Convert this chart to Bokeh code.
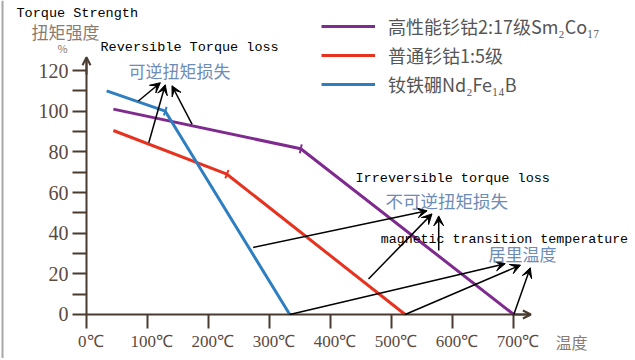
from bokeh.plotting import figure
from bokeh.models import (Range1d, FixedTicker, Label, Arrow, VeeHead, OpenHead,
                          ColumnDataSource, Legend, LegendItem, LinearAxis, Span)
from bokeh.embed import file_html
from bokeh.resources import INLINE

# ---------------- data ----------------
# temperature (°C) / torque strength (%)
smco217_temp = [44, 351, 700]
smco217_pct = [101, 81.5, 0]
smco15_temp = [44, 230, 522]
smco15_pct = [90.5, 69, 0]
ndfeb_temp = [33, 129, 333]
ndfeb_pct = [110, 100, 0]

series_names = ["高性能钐钴2:17级Sm₂Co₁₇", "普通钐钴1:5级", "钕铁硼Nd₂Fe₁₄B"]
series_colors = ["#7f2a8e", "#e6321f", "#2d7fc1"]

x_ticks = [0, 100, 200, 300, 400, 500, 600, 700]
x_tick_labels = ["0℃", "100℃", "200℃", "300℃", "400℃", "500℃", "600℃", "700℃"]
y_ticks = [0, 20, 40, 60, 80, 100, 120]
y_minor_ticks = [10, 30, 50, 70, 90, 110]

# annotation arrows (data units)
rev_x0 = [85, 102, 173]
rev_y0 = [105, 84.5, 93.5]
rev_x1 = [121, 129, 140]
rev_y1 = [114, 113, 112.5]

irr_x0 = [273, 462, 577]
irr_y0 = [33, 17.5, 31.5]
irr_x1 = [558, 566, 577]
irr_y1 = [51, 49.5, 48.5]

curie_x0 = [333, 522, 700]
curie_y0 = [0, 0, 0]
curie_x1 = [686, 711, 727]
curie_y1 = [25, 24.3, 23]

kink_angles = [1.36, 1.21, 1.26]

axis_color = "#4a3b31"
label_color = "#5b4a3e"

# ---------------- figure ----------------
p = figure(width=633, height=358, output_backend="svg", toolbar_location=None,
           x_range=Range1d(-140.9, 896.1), y_range=Range1d(-21.64, 154.43),
           x_axis_location=None, y_axis_location=None,
           min_border=0)
p.outline_line_color = None
p.grid.visible = False
p.background_fill_color = "white"

# thin grey frame edge on the left, as in the source picture
p.add_layout(Span(location=-137.6, dimension="height", line_color="#a8a8a8", line_width=2))

# axes (fixed inside the frame)
xa = LinearAxis(fixed_location=0)
xa.ticker = FixedTicker(ticks=x_ticks)
xa.major_label_overrides = {t: "\u2002" + l for t, l in zip(x_ticks, x_tick_labels)}
xa.bounds = (0, 727)
xa.axis_line_color = axis_color
xa.axis_line_width = 2
xa.major_tick_line_color = axis_color
xa.major_tick_line_width = 2
xa.major_tick_out = 14
xa.major_tick_in = 0
xa.minor_tick_line_color = None
xa.major_label_standoff = 4
xa.major_label_text_font = "Liberation Serif"
xa.major_label_text_font_size = "17px"
xa.major_label_text_color = label_color
p.add_layout(xa, "below")

ya = LinearAxis(fixed_location=0)
ya.ticker = FixedTicker(ticks=y_ticks, minor_ticks=y_minor_ticks)
ya.bounds = (0, 126)
ya.axis_line_color = axis_color
ya.axis_line_width = 2
ya.major_tick_line_color = axis_color
ya.major_tick_line_width = 2
ya.minor_tick_line_color = axis_color
ya.minor_tick_line_width = 2
ya.major_tick_out = 14
ya.major_tick_in = 0
ya.minor_tick_out = 14
ya.minor_tick_in = 0
ya.major_label_standoff = 4
ya.major_label_text_font = "Liberation Serif"
ya.major_label_text_font_size = "20px"
ya.major_label_text_color = label_color
p.add_layout(ya, "left")

# axis arrow heads
p.add_layout(Arrow(x_start=0, y_start=118, x_end=0, y_end=126.5,
                   end=OpenHead(size=8, line_color=axis_color, line_width=2),
                   line_color=axis_color, line_width=2))
p.add_layout(Arrow(x_start=700, y_start=0, x_end=728, y_end=0,
                   end=OpenHead(size=8, line_color=axis_color, line_width=2),
                   line_color=axis_color, line_width=2))

# data lines
renderers = []
for xs, ys, c in zip([smco217_temp, smco15_temp, ndfeb_temp],
                     [smco217_pct, smco15_pct, ndfeb_pct], series_colors):
    r = p.line(xs, ys, line_color=c, line_width=3)
    renderers.append(r)

# kink marks
p.scatter([smco217_temp[1], smco15_temp[1], ndfeb_temp[1]],
          [smco217_pct[1], smco15_pct[1], ndfeb_pct[1]],
          marker="dash", size=9, angle=kink_angles,
          line_color=series_colors, line_width=2)

# annotation arrows
for x0, y0, x1, y1 in [(rev_x0, rev_y0, rev_x1, rev_y1),
                       (irr_x0, irr_y0, irr_x1, irr_y1),
                       (curie_x0, curie_y0, curie_x1, curie_y1)]:
    src = ColumnDataSource(dict(x0=x0, y0=y0, x1=x1, y1=y1))
    p.add_layout(Arrow(x_start="x0", y_start="y0", x_end="x1", y_end="y1", source=src,
                       end=VeeHead(size=10, fill_color="black", line_color="black", line_width=1),
                       line_color="black", line_width=1.5))

# legend
legend = Legend(items=[LegendItem(label=n, renderers=[r]) for n, r in zip(series_names, renderers)],
                location=(321, 261), orientation="vertical",
                glyph_width=54, glyph_height=20, label_height=20, spacing=3,
                padding=0, margin=0, label_standoff=13,
                border_line_color=None, background_fill_alpha=0,
                label_text_font="Noto Sans CJK SC", label_text_font_size="18px",
                label_text_color="#555555")
p.add_layout(legend)

mono = "Liberation Mono"
cjk = "Noto Sans CJK SC"
texts = [
    ("Torque Strength", -114.7, 148.0, mono, "13.5px", "black", "left"),
    ("扭矩强度", -90.1, 139.2, cjk, "17px", "#8a7b71", "left"),
    ("%", -39.3, 131.3, cjk, "11px", "#8a7b71", "center"),
    ("Reversible Torque loss", 22.9, 131.3, mono, "13.5px", "black", "left"),
    ("可逆扭矩损失", 68.8, 120.0, cjk, "17px", "#6d8db5", "left"),
    ("Irreversible torque loss", 440.7, 66.7, mono, "13.5px", "black", "left"),
    ("不可逆扭矩损失", 489.8, 56.1, cjk, "17.5px", "#6d8db5", "left"),
    ("magnetic transition temperature", 482.0, 36.9, mono, "13.3px", "black", "left"),
    ("居里温度", 658.6, 30.2, cjk, "17px", "#6d8db5", "left"),
    ("温度", 768.3, -13.6, cjk, "16px", "#8a7b71", "left"),
]
for t, x, y, f, s, c, a in texts:
    p.add_layout(Label(x=x, y=y, text=t, text_font=f, text_font_size=s, text_color=c,
                       text_align=a, text_baseline="middle"))

open("out.html", "w").write(file_html(p, INLINE))
